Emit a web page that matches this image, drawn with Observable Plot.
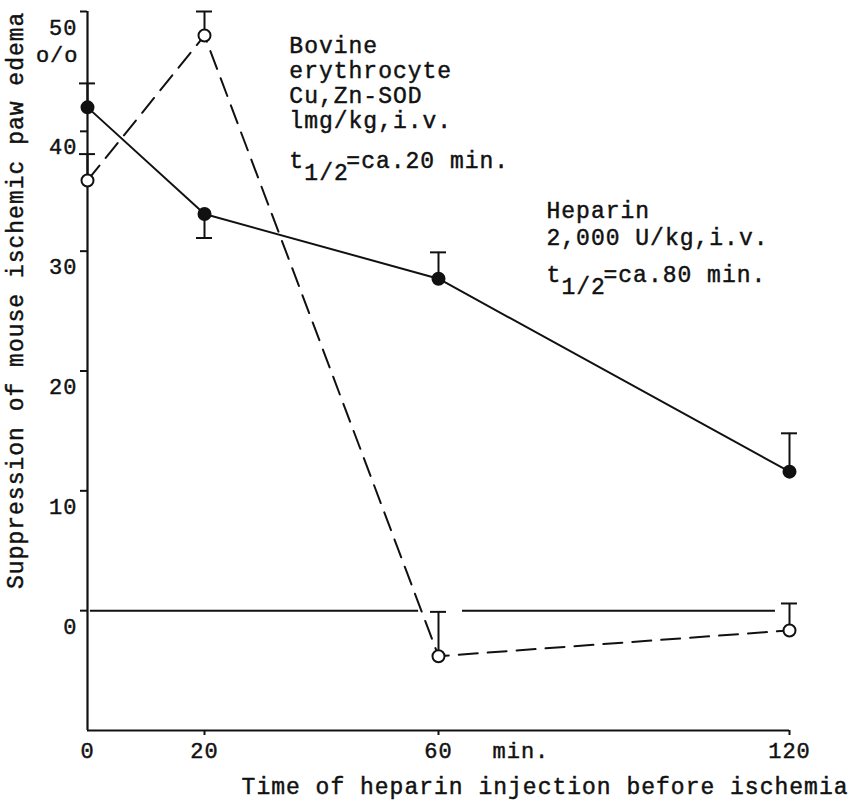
<!DOCTYPE html>
<html>
<head>
<meta charset="utf-8">
<script src="https://cdn.jsdelivr.net/npm/d3@7"></script>
<script src="https://cdn.jsdelivr.net/npm/@observablehq/plot@0.6"></script>
<style>
  html, body { margin: 0; padding: 0; background: #fff; }
  svg { display: block; }
</style>
</head>
<body>
<div id="chart"></div>
<script>
// ---- data ----
const times = [0, 20, 60, 120];                 // min before ischemia
const heparinMean = [42.0, 33.1, 27.7, 11.6];   // % suppression, filled circles, solid line
const heparinErr  = [2.0, -2.0, 2.2, 3.2];      // one-sided error bar (sign = direction)
const sodMean = [35.9, 48.0, -3.8, -1.65];      // % suppression, open circles, dashed line
const sodErr  = [2.2, 2.0, 3.7, 2.25];

const xTicks = [0, 20, 60, 120];
const xTickLabels = ["0", "20", "60", "120"];
const yTicks = [0, 10, 20, 30, 40, 50];
const yTickLabels = ["0", "10", "20", "30", "40", "50"];
const zeroLineSegments = [[0.5, 56.6], [64.1, 117.6]];   // baseline at 0 %, broken near 60 min

const yTitle = "Suppression of mouse ischemic paw edema";
const yUnit = "o/o";
const xTitle = "Time of heparin injection before ischemia";
const xUnit = "min.";
const sodLines = ["Bovine", "erythrocyte", "Cu,Zn-SOD", "lmg/kg,i.v."];
const sodHalfLife = ["t", "1/2", "=ca.20 min."];
const heparinLines = ["Heparin", "2,000 U/kg,i.v."];
const heparinHalfLife = ["t", "1/2", "=ca.80 min."];

// annotation anchors in data units
const sodAnno = {x: 34.5, y: [47.17, 45.08, 43.0, 40.9], tY: 37.57};
const hepAnno = {x: 78.46, y: [33.4, 31.14], tY: 28.06};
const xUnitAt = 60;
const yTitleAt = {x: -12.3, y: 25.9};

// ---- tables ----
const hep = times.map((t, i) => ({t, v: heparinMean[i], e: heparinErr[i]}));
const sod = times.map((t, i) => ({t, v: sodMean[i], e: sodErr[i]}));

const ink = "#111";
const sw = 2;
const capOut = -8;
const txt = {fill: ink, stroke: ink, strokeWidth: 0.45};
const big = 23;

function halfLifeMarks(parts, anno) {
  const base = {x: () => anno.x, y: () => anno.tY, textAnchor: "start", fontSize: big, ...txt};
  return [
    Plot.text([parts[0]], {...base, text: d => d}),
    Plot.text([parts[1]], {...base, text: d => d, dx: 15, dy: 12}),
    Plot.text([parts[2]], {...base, text: d => d, dx: 57})
  ];
}

const chart = Plot.plot({
  width: 851,
  height: 812,
  marginLeft: 87,
  marginRight: 62,
  marginTop: 11,
  marginBottom: 82,
  x: {domain: [0, 120], axis: null},
  y: {domain: [-10, 50], axis: null},
  style: {fontFamily: "'Liberation Mono', monospace", fontSize: "22px", letterSpacing: "1px", color: ink, background: "#fff"},
  marks: [
    // axes lines
    Plot.ruleX([0], {stroke: ink, strokeWidth: 2.2}),
    Plot.ruleY([-10], {stroke: ink, strokeWidth: 2.2}),
    // y ticks (pointing left)
    Plot.ruleY(yTicks, {y: d => d, x1: 0, x2: 0, insetLeft: -7, stroke: ink, strokeWidth: sw}),
    // x ticks (pointing down)
    Plot.ruleX(xTicks.slice(1), {x: d => d, y1: -10, y2: -10, insetBottom: -5, stroke: ink, strokeWidth: sw}),
    // zero baseline
    Plot.ruleY(zeroLineSegments, {y: 0, x1: d => d[0], x2: d => d[1], stroke: ink, strokeWidth: sw}),
    // y tick labels
    Plot.text(yTicks, {y: d => d, text: (d, i) => yTickLabels[i], frameAnchor: "left", textAnchor: "end", dx: -10, dy: 16, ...txt}),
    Plot.text([yUnit], {y: () => d3.max(yTicks), text: d => d, frameAnchor: "left", textAnchor: "end", dx: -9, dy: 43, ...txt}),
    // x tick labels
    Plot.text(xTicks, {x: d => d, text: (d, i) => xTickLabels[i], frameAnchor: "bottom", dy: 27, ...txt}),
    Plot.text([xUnit], {x: () => xUnitAt, text: d => d, frameAnchor: "bottom", textAnchor: "start", dx: 54, dy: 27, ...txt}),
    // titles
    Plot.text([xTitle], {text: d => d, frameAnchor: "bottom-right", textAnchor: "end", dx: 59, dy: 63, fontSize: big, ...txt}),
    Plot.text([yTitle], {text: d => d, x: () => yTitleAt.x, y: () => yTitleAt.y, textAnchor: "middle", rotate: -90, fontSize: big, ...txt}),
    // error bars
    Plot.ruleX(hep, {x: "t", y1: "v", y2: d => d.v + d.e, stroke: ink, strokeWidth: sw}),
    Plot.ruleY(hep, {y: d => d.v + d.e, x1: "t", x2: "t", insetLeft: capOut, insetRight: capOut, stroke: ink, strokeWidth: sw}),
    Plot.ruleX(sod, {x: "t", y1: "v", y2: d => d.v + d.e, stroke: ink, strokeWidth: sw}),
    Plot.ruleY(sod, {y: d => d.v + d.e, x1: "t", x2: "t", insetLeft: capOut, insetRight: capOut, stroke: ink, strokeWidth: sw}),
    // series lines
    Plot.line(hep, {x: "t", y: "v", stroke: ink, strokeWidth: sw}),
    Plot.line(sod, {x: "t", y: "v", stroke: ink, strokeWidth: sw, strokeDasharray: "19,10"}),
    // markers
    Plot.dot(hep, {x: "t", y: "v", r: 6, fill: ink, stroke: ink, strokeWidth: sw}),
    Plot.dot(sod, {x: "t", y: "v", r: 6, fill: "#fff", stroke: ink, strokeWidth: sw}),
    // annotations
    Plot.text(sodLines, {x: () => sodAnno.x, y: (d, i) => sodAnno.y[i], text: d => d, textAnchor: "start", fontSize: big, ...txt}),
    ...halfLifeMarks(sodHalfLife, sodAnno),
    Plot.text(heparinLines, {x: () => hepAnno.x, y: (d, i) => hepAnno.y[i], text: d => d, textAnchor: "start", fontSize: big, ...txt}),
    ...halfLifeMarks(heparinHalfLife, hepAnno)
  ]
});

document.getElementById("chart").appendChild(chart);
</script>
</body>
</html>
